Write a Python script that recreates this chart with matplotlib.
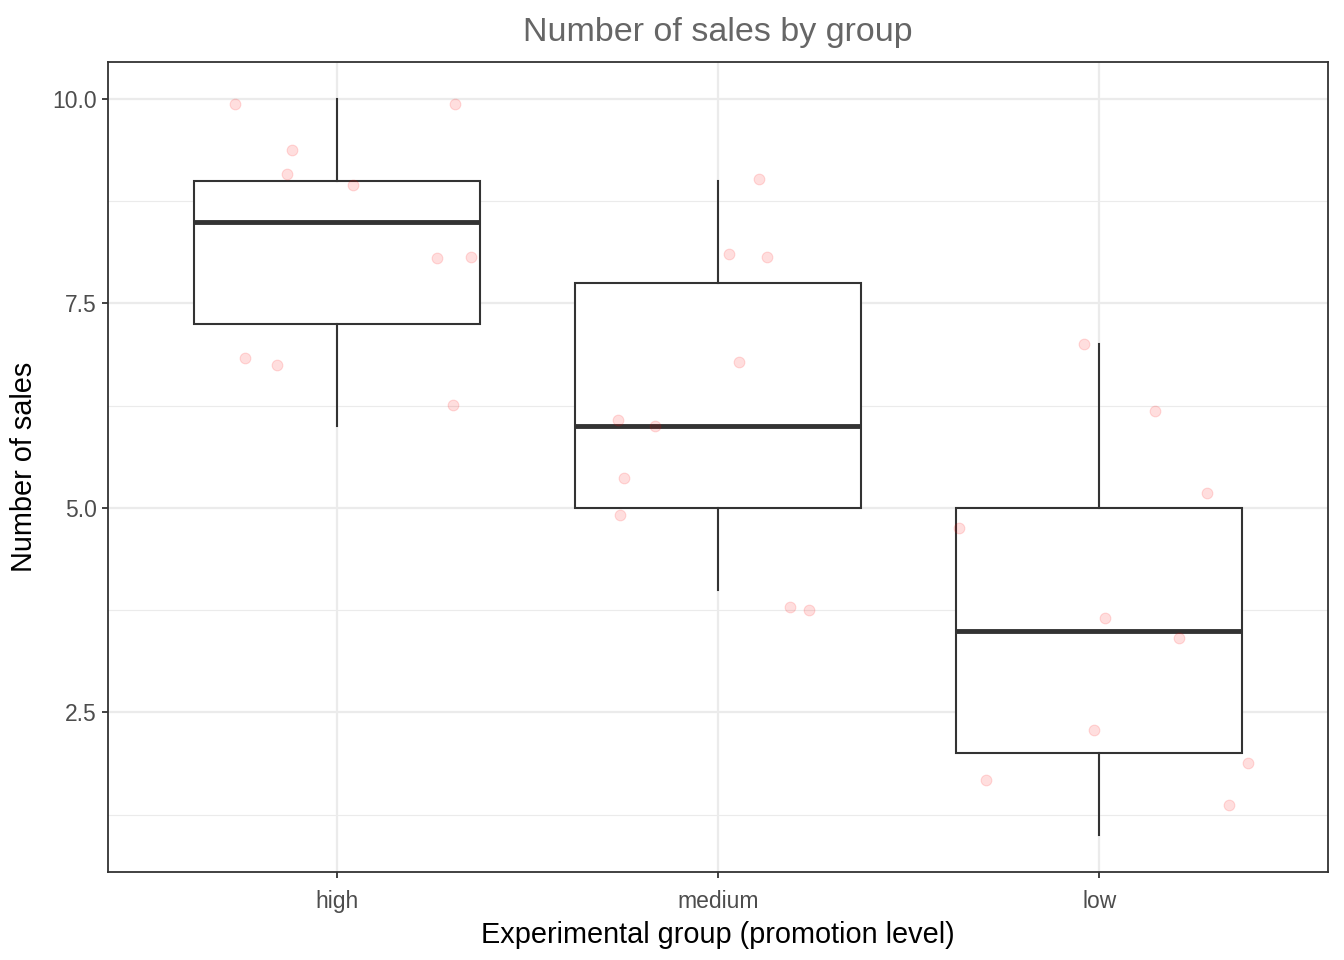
import numpy as np
import matplotlib
matplotlib.use('Agg')
import matplotlib.pyplot as plt

groups = ['high', 'medium', 'low']

# underlying sales counts per group
sales_high = [6, 7, 7, 8, 8, 9, 9, 9, 10, 10]
sales_medium = [4, 4, 5, 5, 6, 6, 7, 8, 8, 9]
sales_low = [1, 2, 2, 2, 3, 4, 5, 5, 6, 7]

# jittered points as they appear (x offset from group centre, y value)
jit_x_high = [-0.267, -0.118, -0.131, 0.042, 0.309, 0.264, 0.353, -0.241, -0.157, 0.306]
jit_y_high = [9.94, 9.38, 9.08, 8.95, 9.94, 8.05, 8.07, 6.83, 6.75, 6.26]
jit_x_medium = [0.107, 0.029, 0.128, 0.055, -0.262, -0.165, -0.246, -0.257, 0.188, 0.238]
jit_y_medium = [9.02, 8.10, 8.07, 6.78, 6.08, 6.00, 5.36, 4.91, 3.79, 3.75]
jit_x_low = [-0.039, 0.147, 0.283, -0.369, 0.016, 0.209, -0.013, -0.298, 0.390, 0.340]
jit_y_low = [7.00, 6.19, 5.18, 4.76, 3.66, 3.41, 2.28, 1.68, 1.88, 1.37]

sales = [sales_high, sales_medium, sales_low]
jit_x = [jit_x_high, jit_x_medium, jit_x_low]
jit_y = [jit_y_high, jit_y_medium, jit_y_low]

plt.rcParams['font.family'] = ['Liberation Sans', 'DejaVu Sans']

fig = plt.figure(figsize=(13.44, 9.6), dpi=100)
ax = fig.add_axes([108 / 1344, 88 / 960, 1220 / 1344, 810 / 960])

pos = np.arange(1, len(groups) + 1)
dark = '#333333'
ax.boxplot(sales, positions=pos, widths=0.75, patch_artist=True,
           showfliers=False, whis=1.5,
           boxprops=dict(facecolor='white', edgecolor=dark, linewidth=1.5),
           whiskerprops=dict(color=dark, linewidth=1.5),
           capprops=dict(linewidth=0),
           medianprops=dict(color=dark, linewidth=3.5, solid_capstyle='butt'),
           zorder=2)

for i, (dx, yy) in enumerate(zip(jit_x, jit_y)):
    ax.scatter(pos[i] + np.array(dx), yy, s=60, color='red', alpha=0.13,
               linewidths=0.8, zorder=3)

ax.set_xlim(0.4, 3.6)
ax.set_ylim(0.55, 10.45)
ax.set_xticks(pos)
ax.set_xticklabels(groups)
ax.set_yticks([2.5, 5.0, 7.5, 10.0])
ax.set_yticklabels(['2.5', '5.0', '7.5', '10.0'])
ax.set_yticks([1.25, 3.75, 6.25, 8.75], minor=True)

ax.grid(which='major', color='#EBEBEB', linewidth=1.6, zorder=0)
ax.grid(which='minor', axis='y', color='#EBEBEB', linewidth=0.8, zorder=0)
ax.set_axisbelow(True)
ax.tick_params(which='major', length=4, width=1.3, color=dark,
               labelsize=16.5, labelcolor='#4D4D4D', pad=4)
ax.tick_params(axis='x', which='major', pad=9)
ax.tick_params(which='minor', length=0)
for sp in ax.spines.values():
    sp.set_color(dark)
    sp.set_linewidth(1.3)

ax.set_title('Number of sales by group', fontsize=24.5, color='#666666', pad=15)
ax.set_xlabel('Experimental group (promotion level)', fontsize=20.8, labelpad=6)
ax.set_ylabel('Number of sales', fontsize=20.8, labelpad=10)

fig.savefig('out.png', dpi=100)
